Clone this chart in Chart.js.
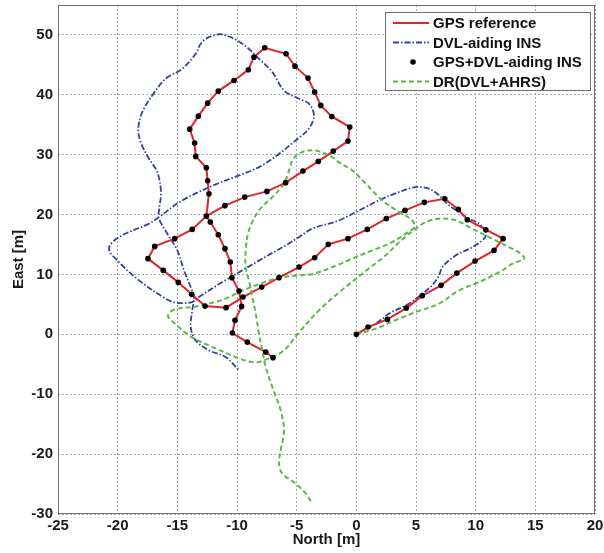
<!DOCTYPE html>
<html><head><meta charset="utf-8">
<script src="https://cdn.jsdelivr.net/npm/chart.js@4"></script>
<style>html,body{margin:0;padding:0;background:#fff}#wrap{width:604px;height:553px}</style>
</head><body><div id="wrap"><canvas id="c" width="604" height="553"></canvas></div>
<script>
const xTicks = [-25,-20,-15,-10,-5,0,5,10,15,20];
const yTicks = [-30,-20,-10,0,10,20,30,40,50];
const seriesNames = ['GPS reference','DVL-aiding INS','GPS+DVL-aiding INS','DR(DVL+AHRS)'];

const gpsNorth = [0,0.98,2.60,4.19,5.53,7.10,8.42,9.95,11.54,12.30,10.85,9.30,8.55,7.41,5.70,4.08,2.51,0.92,-0.70,-2.35,-3.49,-4.80,-6.48,-7.93,-9.50,-10.92,-12.68,-13.80,-14.92,-16.18,-17.46,-16.90,-15.22,-13.75,-12.57,-11.01,-9.35,-7.49,-5.92,-4.47,-3.19,-1.93,-0.70,-0.55,-2.06,-2.98,-3.49,-4.05,-5.14,-5.89,-7.68,-8.58,-9.05,-10.25,-11.57,-12.46,-13.24,-13.96,-13.55,-13.46,-12.57,-12.46,-12.35,-12.57,-12.24,-11.57,-11.01,-10.56,-10.42,-9.83,-9.61,-10.17,-10.39,-9.14,-7.59,-6.98];
const gpsEast = [0,1.22,2.50,4.39,6.46,8.18,10.23,12.24,14.02,15.98,17.48,19.15,20.87,22.65,22.04,20.70,19.32,17.53,15.98,15.03,12.80,11.24,9.47,7.90,6.23,4.46,4.72,6.68,8.68,10.68,12.64,14.69,15.98,17.53,19.75,21.49,22.92,23.87,25.33,27.26,28.88,30.60,32.27,34.61,36.39,38.23,40.45,42.79,44.79,46.86,47.86,46.29,44.19,42.40,40.62,38.61,36.44,34.27,31.94,29.72,27.83,25.66,23.49,19.75,18.75,16.64,14.31,12.07,9.47,7.23,4.67,2.34,0.22,-1.29,-2.95,-3.89];

const fusedNorth = [0,0.98,2.60,4.19,5.53,7.10,8.42,9.95,11.54,12.30,10.85,9.30,8.55,7.41,5.70,4.08,2.51,0.92,-0.70,-2.35,-3.49,-4.80,-6.48,-7.93,-9.50,-10.92,-12.68,-13.80,-14.92,-16.18,-17.46,-16.90,-15.22,-13.75,-12.57,-11.01,-9.35,-7.49,-5.92,-4.47,-3.19,-1.93,-0.70,-0.55,-2.06,-2.98,-3.49,-4.05,-5.14,-5.89,-7.68,-8.58,-9.05,-10.25,-11.57,-12.46,-13.24,-13.96,-13.55,-13.46,-12.57,-12.46,-12.35,-12.24,-11.57,-11.01,-10.56,-10.42,-9.83,-9.61,-10.17,-10.39,-9.14,-7.59,-6.98];
const fusedEast = [0,1.22,2.50,4.39,6.46,8.18,10.23,12.24,14.02,15.98,17.48,19.15,20.87,22.65,22.04,20.70,19.32,17.53,15.98,15.03,12.80,11.24,9.47,7.90,6.23,4.46,4.72,6.68,8.68,10.68,12.64,14.69,15.98,17.53,19.75,21.49,22.92,23.87,25.33,27.26,28.88,30.60,32.27,34.61,36.39,38.23,40.45,42.79,44.79,46.86,47.86,46.29,44.19,42.40,40.62,38.61,36.44,34.27,31.94,29.72,27.83,25.66,23.49,18.75,16.64,14.31,12.07,9.47,7.23,4.67,2.34,0.22,-1.29,-2.95,-3.89];

const dvlNorth = [0,1.63,2.74,4.42,5.53,6.35,6.93,7.21,8.33,9.72,10.87,10.29,9.45,8.61,7.77,6.93,6.09,4.98,3.58,1.90,0.23,-1.45,-3.69,-4.80,-5.92,-7.88,-9.56,-11.23,-13.19,-13.77,-15.14,-15.98,-18.21,-19.89,-20.73,-19.89,-17.38,-16.54,-14.59,-11.79,-9.83,-8.16,-6.65,-5.08,-3.97,-3.55,-3.97,-4.80,-6.06,-7.04,-8.16,-9.56,-11.23,-12.35,-13.04,-13.46,-14.59,-15.98,-17.10,-17.94,-18.27,-18.07,-17.38,-16.68,-16.37,-16.54,-16.54,-15.84,-15.00,-14.44,-13.88,-13.60,-13.75,-13.88,-13.46,-12.35,-10.95,-9.89];
const dvlEast = [0,1.79,3.46,5.13,6.79,8.18,9.85,11.24,13.19,14.57,16.53,18.48,19.32,20.42,21.54,23.21,24.32,24.59,23.76,22.37,20.70,19.03,17.65,16.24,14.86,12.64,10.68,8.73,6.23,5.39,5.29,5.96,9.02,12.07,14.31,16.24,18.48,19.58,22.37,25.04,26.54,27.93,29.88,32.39,34.39,36.56,38.51,39.35,40.73,43.79,46.03,48.53,50.08,49.63,48.53,46.86,44.36,42.69,39.90,37.11,34.34,32.10,29.33,27.10,23.71,20.70,19.32,16.81,14.02,10.68,7.90,6.23,4.01,1.22,-1.00,-2.67,-3.79,-5.89];

const drNorth = [0,1.63,3.58,4.98,6.93,8.61,10.29,12.24,13.08,14.06,13.78,12.80,11.12,9.72,8.33,6.93,5.82,4.98,3.58,2.46,1.06,-0.19,-1.45,-3.13,-4.80,-6.06,-7.32,-8.49,-9.83,-11.79,-13.77,-15.14,-15.78,-15.53,-14.86,-13.75,-12.35,-10.95,-9.83,-8.43,-6.48,-4.80,-3.55,-1.45,-0.05,1.34,2.74,4.14,4.84,4.69,3.58,2.18,0.79,-0.34,-1.45,-2.01,-3.13,-3.96,-4.80,-5.36,-5.64,-6.06,-7.04,-8.16,-9.0,-9.27,-9.27,-9.0,-8.72,-8.43,-8.16,-7.88,-7.59,-7.04,-6.34,-6.06,-6.34,-6.48,-6.20,-5.08,-4.24,-3.69];
const drEast = [0,0.95,2.62,3.72,5.13,7.35,8.73,10.68,11.80,12.64,13.47,14.57,16.24,17.65,19.03,19.32,18.75,17.65,15.36,13.19,11.02,9.02,7.01,4.01,0.33,-2.67,-4.01,-4.67,-4.01,-2.34,-0.50,1.67,3.01,3.84,4.34,4.56,5.13,5.96,7.06,8.18,9.47,9.85,10.13,11.69,12.90,14.02,15.14,16.81,17.86,19.03,20.42,22.37,25.16,27.38,28.71,29.60,30.55,30.72,30.17,29.05,27.38,25.16,22.92,20.70,17.36,14.02,11.24,9.02,6.23,3.46,0.12,-2.67,-5.46,-8.80,-12.69,-16.03,-19.37,-21.59,-23.26,-24.92,-26.59,-28.26];

function pts(xs, ys){ return xs.map((x,i)=>({x:x, y:ys[i]})); }

const FONT = 'Liberation Sans, Arial, Helvetica, sans-serif';

const boxLegend = {
  id: 'boxLegend',
  afterDatasetsDraw(chart){
    const {ctx, chartArea:a} = chart;
    ctx.save();
    ctx.strokeStyle = '#6e6e6e'; ctx.lineWidth = 1; ctx.setLineDash([]);
    ctx.strokeRect(a.left+0.5, a.top+0.5, a.right-a.left-1, a.bottom-a.top-1);
    const w = 205, h = 78;
    const x0 = a.right - 5 - w, y0 = a.top + 7;
    ctx.fillStyle = '#fff'; ctx.fillRect(x0, y0, w, h);
    ctx.strokeStyle = '#6e6e6e'; ctx.strokeRect(x0+0.5, y0+0.5, w, h);
    ctx.font = 'bold 15px ' + FONT;
    ctx.textBaseline = 'middle'; ctx.textAlign = 'left';
    [0,1,2,3].forEach((di, r) => {
      const ds = chart.data.datasets[di];
      const cy = y0 + 11 + r * 19.5;
      if (ds.showLine) {
        ctx.strokeStyle = ds.borderColor; ctx.lineWidth = ds.borderWidth;
        ctx.setLineDash(ds.borderDash || []);
        ctx.beginPath(); ctx.moveTo(x0+8, cy); ctx.lineTo(x0+44, cy); ctx.stroke();
        ctx.setLineDash([]);
      } else {
        ctx.fillStyle = ds.pointBackgroundColor;
        ctx.beginPath(); ctx.arc(x0+28, cy, 2.8, 0, Math.PI*2); ctx.fill();
      }
      ctx.fillStyle = '#111';
      ctx.fillText(seriesNames[di], x0+48, cy+1);
    });
    ctx.restore();
  }
};

new Chart(document.getElementById('c'), {
  type: 'scatter',
  data: {
    datasets: [
      { label: seriesNames[0], data: pts(gpsNorth, gpsEast), showLine: true, borderColor: '#e0262a', borderWidth: 2, pointRadius: 0, tension: 0, order: 2 },
      { label: seriesNames[1], data: pts(dvlNorth, dvlEast), showLine: true, borderColor: '#34429a', borderWidth: 1.8, borderDash: [6,2,1.5,2], pointRadius: 0, tension: 0.35, order: 4 },
      { label: seriesNames[2], data: pts(fusedNorth, fusedEast), showLine: false, pointRadius: 2.8, pointBackgroundColor: '#000', pointBorderWidth: 0, borderColor: '#000', order: 0 },
      { label: seriesNames[3], data: pts(drNorth, drEast), showLine: true, borderColor: '#5cb848', borderWidth: 2, borderDash: [5,3], pointRadius: 0, tension: 0.35, order: 1 }
    ]
  },
  options: {
    responsive: false, animation: false, devicePixelRatio: 1,
    layout: { padding: { left: 0, top: 5, right: 9, bottom: 0 } },
    plugins: { legend: { display: false }, tooltip: { enabled: false } },
    scales: {
      x: {
        type: 'linear', min: xTicks[0], max: xTicks[xTicks.length-1],
        afterBuildTicks(s){ s.ticks = xTicks.map(v=>({value:v})); },
        afterFit(s){ s.height = 39; s.paddingLeft = 0; s.paddingRight = 0; },
        ticks: { font: { family: FONT, size: 15, weight: 'bold' }, color: '#1a1a1a', padding: 3, maxRotation: 0, autoSkip: false },
        grid: { color: '#a8a8a8', lineWidth: 1, drawTicks: false },
        border: { display: false, dash: [2,2] },
        title: { display: true, text: 'North [m]', font: { family: FONT, size: 15, weight: 'bold' }, color: '#1a1a1a', padding: { top: 0, bottom: 4 } }
      },
      y: {
        type: 'linear', min: yTicks[0], max: 55,
        afterBuildTicks(s){ s.ticks = yTicks.map(v=>({value:v})); },
        afterFit(s){ s.width = 58; s.paddingTop = 0; s.paddingBottom = 0; },
        ticks: { font: { family: FONT, size: 15, weight: 'bold' }, color: '#1a1a1a', padding: 5, autoSkip: false },
        grid: { color: '#a8a8a8', lineWidth: 1, drawTicks: false },
        border: { display: false, dash: [2,2] },
        title: { display: true, text: 'East [m]', font: { family: FONT, size: 15, weight: 'bold' }, color: '#1a1a1a', padding: { top: 10, bottom: 0 } }
      }
    }
  },
  plugins: [boxLegend]
});
</script>
</body></html>
